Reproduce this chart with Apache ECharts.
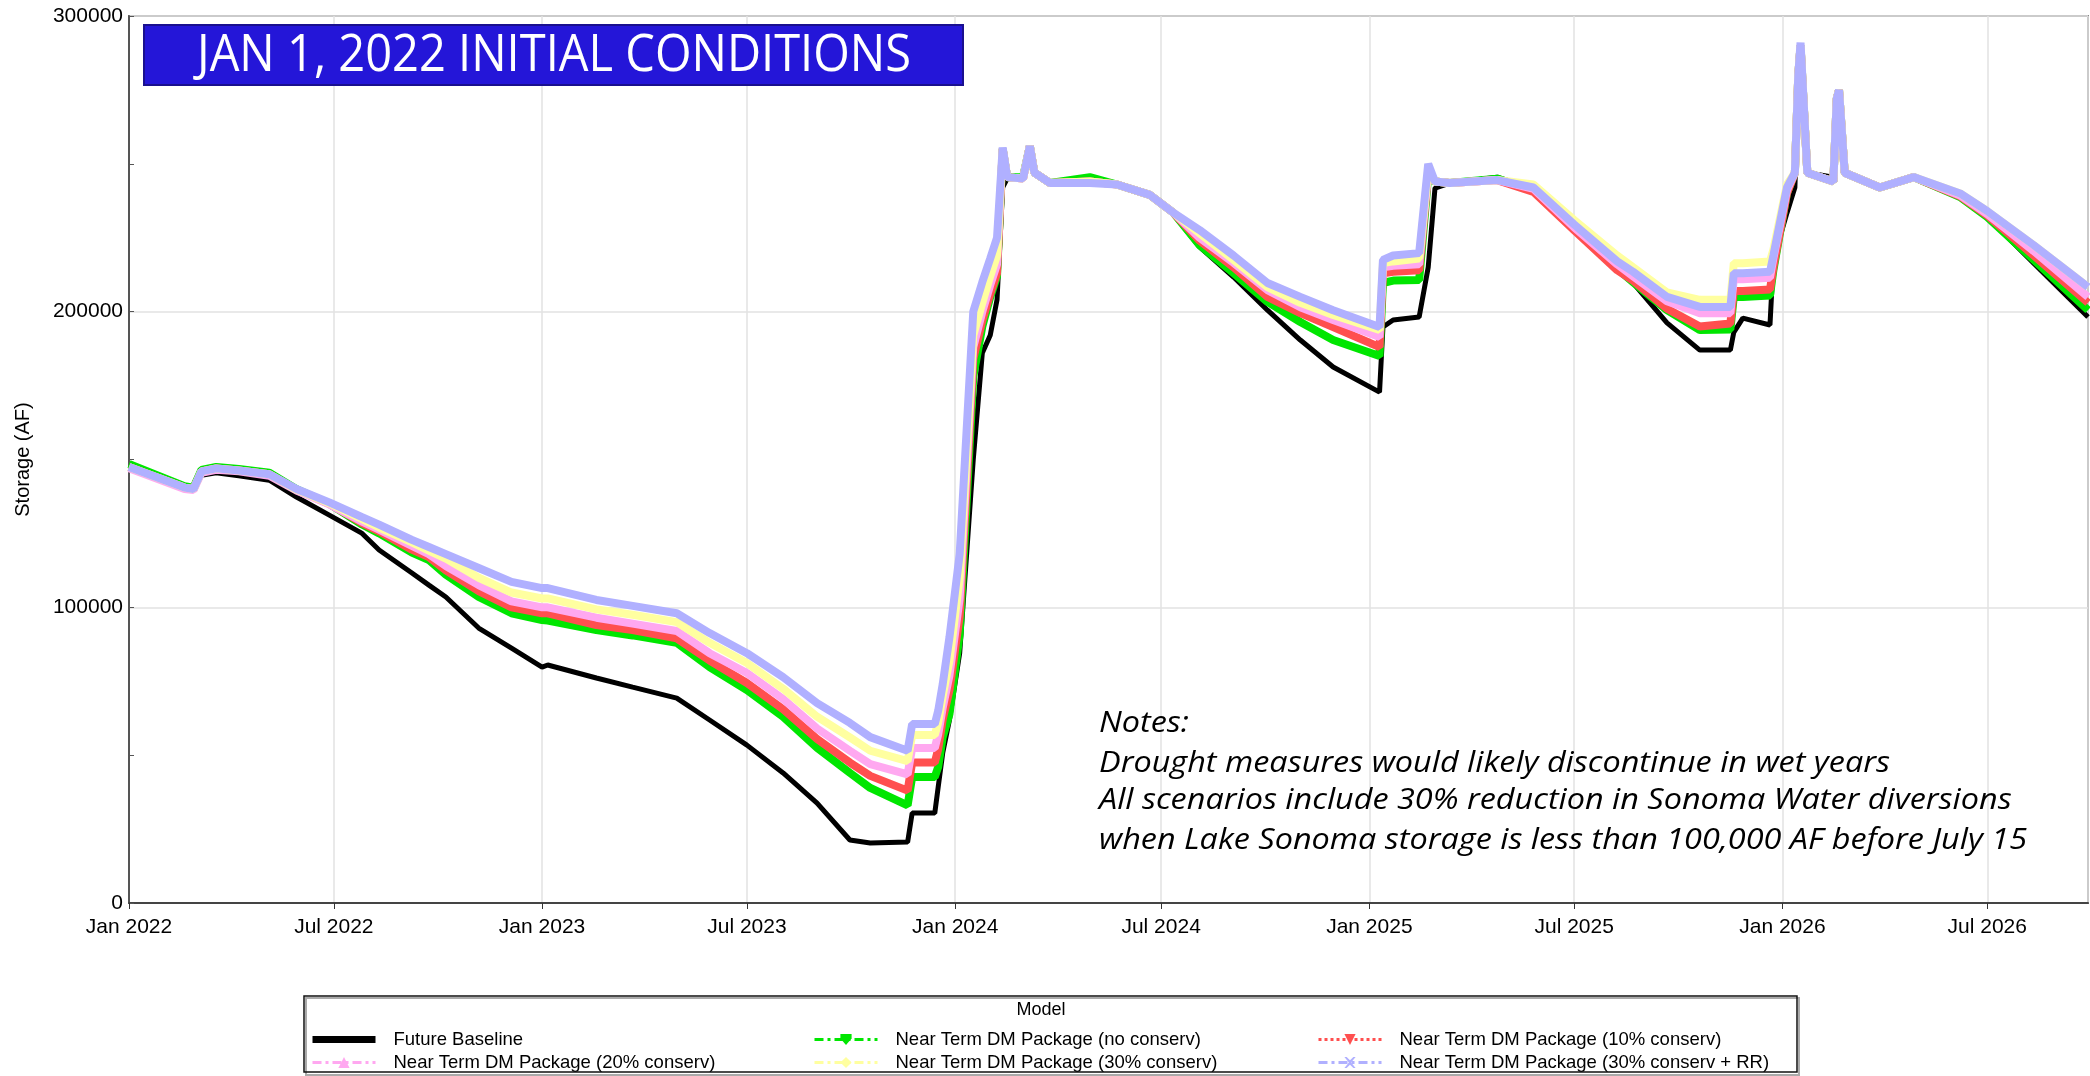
<!DOCTYPE html>
<html><head><meta charset="utf-8">
<script src="https://cdn.jsdelivr.net/npm/echarts@6/dist/echarts.min.js"></script>
<style>html,body{margin:0;padding:0;background:#fff}#c{width:2090px;height:1076px}</style>
</head><body><div id="c"></div>
<script>
// ---------------- DATA ----------------
const dates = ['2022-01-01','2022-02-19','2022-02-27','2022-03-06','2022-03-19','2022-04-08','2022-05-05','2022-05-29','2022-06-27','2022-07-26',
'2022-08-10','2022-09-08','2022-09-23','2022-10-08','2022-11-06','2022-12-05','2023-01-01','2023-01-06','2023-02-18','2023-03-22',
'2023-04-30','2023-05-29','2023-07-01','2023-08-02','2023-09-01','2023-09-30','2023-10-18','2023-11-20','2023-11-24','2023-12-14',
'2023-12-17','2023-12-21','2023-12-27','2024-01-05','2024-01-17','2024-01-25','2024-02-01','2024-02-07','2024-02-12','2024-02-16',
'2024-03-01','2024-03-07','2024-03-11','2024-03-25','2024-04-29','2024-05-23','2024-06-21','2024-07-12','2024-08-04','2024-09-03',
'2024-10-03','2024-11-01','2024-11-30','2025-01-10','2025-01-13','2025-01-22','2025-02-14','2025-02-22','2025-02-28','2025-03-13',
'2025-04-24','2025-05-26','2025-07-01','2025-08-08','2025-08-22','2025-09-21','2025-10-20','2025-11-16','2025-11-19','2025-11-27',
'2025-12-21','2025-12-24','2026-01-05','2026-01-12','2026-01-15','2026-01-17','2026-01-23','2026-02-15','2026-02-18','2026-02-20',
'2026-02-25','2026-03-28','2026-04-27','2026-06-07','2026-07-01','2026-08-11','2026-09-28'];

const futureBaseline = [147500,140000,139700,144700,145500,144500,143000,137300,131200,125000,
119400,111600,107500,103500,93000,86200,79800,80500,76100,73000,
69300,61900,53400,44000,33800,21300,20300,20600,30400,30400,
39200,50700,62000,84500,150000,186000,192000,204000,242000,245000,
245000,256000,247000,243500,244000,243000,239500,233000,221900,211700,
200500,190400,181300,172800,194800,197200,198200,215000,241800,243500,
245500,241500,228000,214000,209700,196200,187000,187000,193000,197800,
195500,217500,233400,242000,277000,290800,247000,245500,269000,275000,
247000,242000,245500,238800,232000,216400,198200];

const dmNoConserv = [148500,141000,140500,146500,147500,146800,145500,140000,135000,128000,
125000,118500,116000,111000,103500,98000,95700,95500,92300,90500,
88000,79800,72000,63000,52500,44000,38900,33000,42600,42600,
46000,56000,64000,91000,178000,195000,205000,212000,255000,245500,
245500,256000,247000,243500,245500,243000,239500,233400,222500,213000,
203300,196500,190400,185000,209700,210500,210700,246000,244000,243500,
245000,241000,228000,214500,210000,200500,193800,194000,205000,205000,
205500,214000,240000,247000,280000,290000,247000,244000,272000,275000,
247000,242000,245500,238800,232000,217500,200500];

const dm10 = [147500,140500,140000,146000,147000,146300,145000,139800,135000,128500,
125700,119500,117000,112500,105500,100000,98000,98000,94000,92300,
89500,82000,74400,65500,55500,47500,43000,38000,47500,47500,
52000,62000,72000,97000,184000,197000,206000,213000,255000,245500,
245000,256000,247000,243500,244000,243000,239500,233400,224000,215000,
205000,199500,194800,188000,213000,213500,214000,247000,244000,243500,
244500,240500,227500,214000,210500,201000,195000,196000,207000,207000,
207500,215000,240000,247000,280000,290000,247000,244000,272000,275000,
247000,242000,245500,239000,232500,219000,203000];

const dm20 = [147000,140000,139700,145500,146500,146000,144500,139500,134800,129000,
126300,120800,118000,114000,107500,102000,100000,100000,96500,94500,
92000,84500,77800,69000,59000,51500,47000,43500,52400,52400,
57000,66000,77000,103000,188000,200000,209000,216000,255000,245500,
245000,256000,247000,243500,244000,243000,239500,233400,225000,216500,
207300,201500,197200,191400,215000,215500,216000,247000,244000,243500,
244500,241500,228500,216000,212000,203500,199500,199500,211000,211000,
211500,218000,241000,247000,280000,290000,247000,244000,272000,275000,
247000,242000,245500,239300,233000,220500,205000];

const dm30 = [147500,140500,140000,146000,147000,146300,145000,139800,135200,129800,
127000,122000,119200,116500,110000,105000,103000,103000,99300,97500,
95000,88000,81200,72500,63000,56000,51500,48000,56800,56800,
61000,70000,82000,110000,192000,203000,212000,219000,255000,245500,
245000,256000,247000,243500,244000,243000,239500,233400,226500,217500,
208300,203000,198900,193800,216400,217000,218000,248000,244000,243500,
244500,243000,231000,219000,215000,206500,204000,204000,216400,216400,
217000,221000,243000,247000,280000,290000,247000,244000,272000,275000,
247000,242000,245500,240000,234000,222500,208300];

const dm30RR = [147500,140500,140000,146000,147000,146300,145000,140000,135500,130500,
128000,122800,120400,118000,113300,108600,106500,106500,102500,100500,
98000,91300,84500,76400,67600,60900,56100,51500,60500,60500,
65000,74000,90000,118000,200000,210000,218000,225000,255500,245500,
245000,256000,247000,243500,243500,243000,239500,233400,227600,219000,
209700,205000,200500,194800,217500,219000,219800,250000,244000,243500,
244500,242000,229500,217000,213500,205000,201600,201600,213000,213000,
213500,219000,242000,247000,280000,291000,247000,244000,272000,275000,
247000,242000,245500,240000,234000,222500,208300];

const seriesNames = ['Future Baseline','Near Term DM Package (no conserv)','Near Term DM Package (10% conserv)',
  'Near Term DM Package (20% conserv)','Near Term DM Package (30% conserv)','Near Term DM Package (30% conserv + RR)'];
const monthNames = ['Jan','Feb','Mar','Apr','May','Jun','Jul','Aug','Sep','Oct','Nov','Dec'];
const titleText = 'JAN 1, 2022 INITIAL CONDITIONS';
const notesLines = ['Notes:','Drought measures would likely discontinue in wet years',
  'All scenarios include 30% reduction in Sonoma Water diversions',
  'when Lake Sonoma storage is less than 100,000 AF before July 15'];

// ---------------- CHART ----------------
function ts(s){const p=s.split('-').map(Number);return Date.UTC(p[0],p[1]-1,p[2]);}
function pairs(vals){return dates.map((d,i)=>[ts(d),vals[i]]);}

const cv=document.createElement('canvas').getContext('2d');
cv.font='normal 52px "Open Sans"';
const titleScale = 714 / cv.measureText(titleText).width;
cv.font='italic 29px "Open Sans"';
const notesScale = 928 / cv.measureText(notesLines[3]).width;

const AX='Liberation Sans, Arial, sans-serif';
const colors=['#000000','#00e600','#ff4f4f','#ffa8f0','#ffffa0','#b0b0ff'];
const values=[futureBaseline,dmNoConserv,dm10,dm20,dm30,dm30RR];
const symbols=['rect','path://M0,0 L10,0 L10,4 L5,10 L0,4 Z','path://M0,0 L10,0 L5,10 Z','triangle','diamond',
  'path://M0,0 L2,0 L5,3 L8,0 L10,0 L6,5 L10,10 L8,10 L5,7 L2,10 L0,10 L4,5 Z'];

const series = values.map((v,i)=>({
  name: seriesNames[i], type:'line', data: pairs(v), showSymbol:false, symbol:symbols[i],
  lineStyle:{color:colors[i], width: i===0?5:8}, itemStyle:{color:colors[i]},
  z: 2+i, silent:true, animation:false
}));

const legendText={fontFamily:AX,fontSize:18.5,lineHeight:21,color:'#000',padding:[0,0,0,13]};
function legItem(i,type,w){return {name:seriesNames[i], lineStyle:{width:w,type:type}, itemStyle: i===0?{opacity:0}:{}};}
const dashDot=[9,4,3,4];
const legends=[
  {left:309, data:[legItem(0,'solid',7), legItem(3,dashDot,3)]},
  {left:813, data:[legItem(1,dashDot,3), legItem(4,dashDot,3)]},
  {left:1317, data:[legItem(2,[3,3],3), legItem(5,dashDot,3)]}
].map(l=>Object.assign({top:1029, height:70, width:480, orient:'vertical', padding:0, itemWidth:63, itemHeight:14, itemGap:2,
   selectedMode:false, textStyle:legendText}, l));

const graphic=[
  {type:'rect', shape:{x:306, y:998, width:1493, height:77}, style:{fill:'none', stroke:'#aaa', lineWidth:2}, z:90},
  {type:'rect', shape:{x:304, y:996, width:1493, height:76}, style:{fill:'none', stroke:'#111', lineWidth:1.5}, z:91},
  {type:'text', x:1041, y:1010, style:{text:'Model', font:'18px '+AX, fill:'#000', textAlign:'center', textVerticalAlign:'middle'}, z:92},
  {type:'rect', shape:{x:144, y:25, width:819, height:60}, style:{fill:'#2416d8', stroke:'#1a108f', lineWidth:2}, z:100},
  {type:'text', x:554, y:56, scaleX:titleScale, style:{text:titleText, font:'normal 52px "Open Sans"', fill:'#fff', textAlign:'center', textVerticalAlign:'middle'}, z:101}
];
const noteY=[724,764,801,841];
notesLines.forEach((t,i)=>graphic.push({type:'text', x:1099, y:noteY[i], scaleX:notesScale,
  style:{text:t, font:'italic 29px "Open Sans"', fill:'#000', textAlign:'left', textVerticalAlign:'middle'}, z:100}));

const chart=echarts.init(document.getElementById('c'),null,{renderer:'canvas'});
chart.setOption({
  animation:false, useUTC:true, backgroundColor:'#fff',
  grid:{left:129, right:2, top:16, bottom:173, show:true, borderColor:'#888', borderWidth:2},
  xAxis:{type:'time', min:ts('2022-01-01'), max:ts('2026-09-28'), splitNumber:8,
    axisLine:{lineStyle:{color:'#444',width:2}},
    axisTick:{show:true,length:6,lineStyle:{color:'#333'}},
    splitLine:{show:true,lineStyle:{color:'#e2e2e2',width:1.5}},
    axisLabel:{margin:14, fontFamily:AX, fontSize:21, color:'#000',
      formatter:function(v){const d=new Date(v);return monthNames[d.getUTCMonth()]+' '+d.getUTCFullYear();}}},
  yAxis:{type:'value', min:0, max:300000, interval:100000,
    name:'Storage (AF)', nameLocation:'middle', nameGap:96, nameRotate:90,
    nameTextStyle:{fontFamily:AX, fontSize:20, color:'#000'},
    axisLine:{show:true,lineStyle:{color:'#555',width:2}},
    axisTick:{show:true,inside:true,length:5,lineStyle:{color:'#555'}},
    minorTick:{show:true,splitNumber:2,length:5,lineStyle:{color:'#555'}},
    splitLine:{show:true,lineStyle:{color:'#e2e2e2',width:1.5}},
    axisLabel:{margin:6, fontFamily:AX, fontSize:21, color:'#000', formatter:function(v){return String(v);}}},
  legend:legends,
  graphic:graphic,
  series:series
});
</script></body></html>
